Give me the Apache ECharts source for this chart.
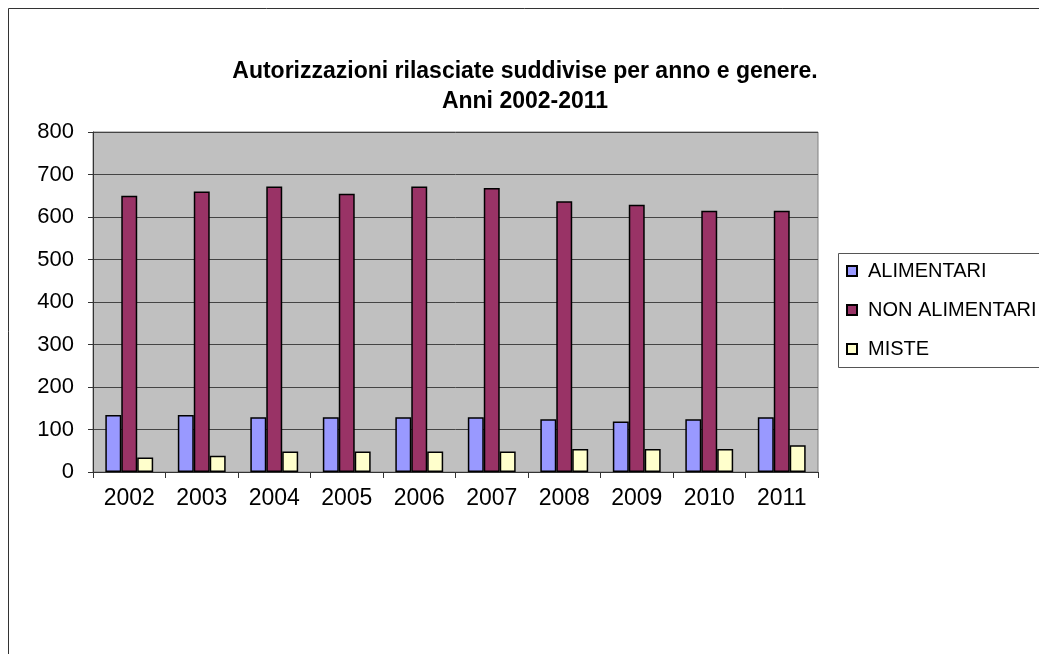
<!DOCTYPE html>
<html>
<head>
<meta charset="utf-8">
<script src="https://cdn.jsdelivr.net/npm/echarts@6/dist/echarts.min.js"></script>
<style>
html,body{margin:0;padding:0;background:#fff;}
#c{width:1039px;height:654px;}
</style>
</head>
<body>
<div id="c"></div>
<script>
var categories = ['2002','2003','2004','2005','2006','2007','2008','2009','2010','2011'];
var alimentari = [134,134,129,129,129,129,124,119,124,129];
var nonAlimentari = [650,660,672,655,672,668,637,629,615,615];
var miste = [34,38,48,48,48,48,54,54,54,63];
var seriesNames = ['ALIMENTARI','NON ALIMENTARI','MISTE'];
var titleText = 'Autorizzazioni rilasciate suddivise per anno e genere.\nAnni 2002-2011';

var FONT = 'Liberation Sans, Arial, sans-serif';
var chart = echarts.init(document.getElementById('c'), null, {renderer:'canvas'});
function bar(name, data, color){
  return {
    name: name, type: 'bar', data: data,
    barGap: '0%', barCategoryGap: '34%',
    itemStyle: {color: color, borderColor: '#000', borderWidth: 1.5},
    emphasis: {disabled: true}
  };
}
chart.setOption({
  animation: false,
  backgroundColor: '#fff',
  textStyle: {fontFamily: FONT},
  title: {
    text: titleText,
    left: 525, top: 57, textAlign: 'center', padding: 0,
    textStyle: {fontFamily: FONT, fontSize: 23, fontWeight: 'bold', color: '#000', lineHeight: 30}
  },
  graphic: [
    {type:'rect', shape:{x:8.5, y:8.5, width:1100, height:700}, style:{fill:null, stroke:'#333', lineWidth:1}, silent:true, z:-1},
    {type:'rect', shape:{x:838.5, y:253.5, width:260, height:114}, style:{fill:'#fff', stroke:'#555', lineWidth:1}, silent:true, z:0}
  ],
  legend: {
    orient: 'vertical', left: 846, top: 261,
    itemWidth: 10, itemHeight: 10, itemGap: 19,
    icon: 'rect', padding: 0,
    textStyle: {fontFamily: FONT, fontSize: 20, color: '#000', lineHeight: 20, padding: [0,0,0,6]},
    data: seriesNames,
    selectedMode: false,
    z: 5
  },
  grid: {
    left: 93, top: 132, width: 725, height: 340,
    show: true, backgroundColor: '#C0C0C0', borderColor: '#808080', borderWidth: 1
  },
  xAxis: {
    type: 'category', data: categories,
    axisLine: {lineStyle: {color: '#333', width: 1}},
    axisTick: {show: true, interval: 0, length: 6, lineStyle: {color: '#333'}},
    axisLabel: {fontFamily: FONT, fontSize: 23, color: '#000', margin: 15}
  },
  yAxis: {
    type: 'value', min: 0, max: 800, interval: 100,
    axisLine: {show: true, lineStyle: {color: '#333', width: 1}},
    axisTick: {show: true, length: 5, lineStyle: {color: '#333'}},
    axisLabel: {fontFamily: FONT, fontSize: 22, color: '#000', margin: 19},
    splitLine: {show: true, lineStyle: {color: '#444', width: 1}}
  },
  series: [
    bar(seriesNames[0], alimentari, '#9999FF'),
    bar(seriesNames[1], nonAlimentari, '#993366'),
    bar(seriesNames[2], miste, '#FFFFCC')
  ]
});
</script>
</body>
</html>
